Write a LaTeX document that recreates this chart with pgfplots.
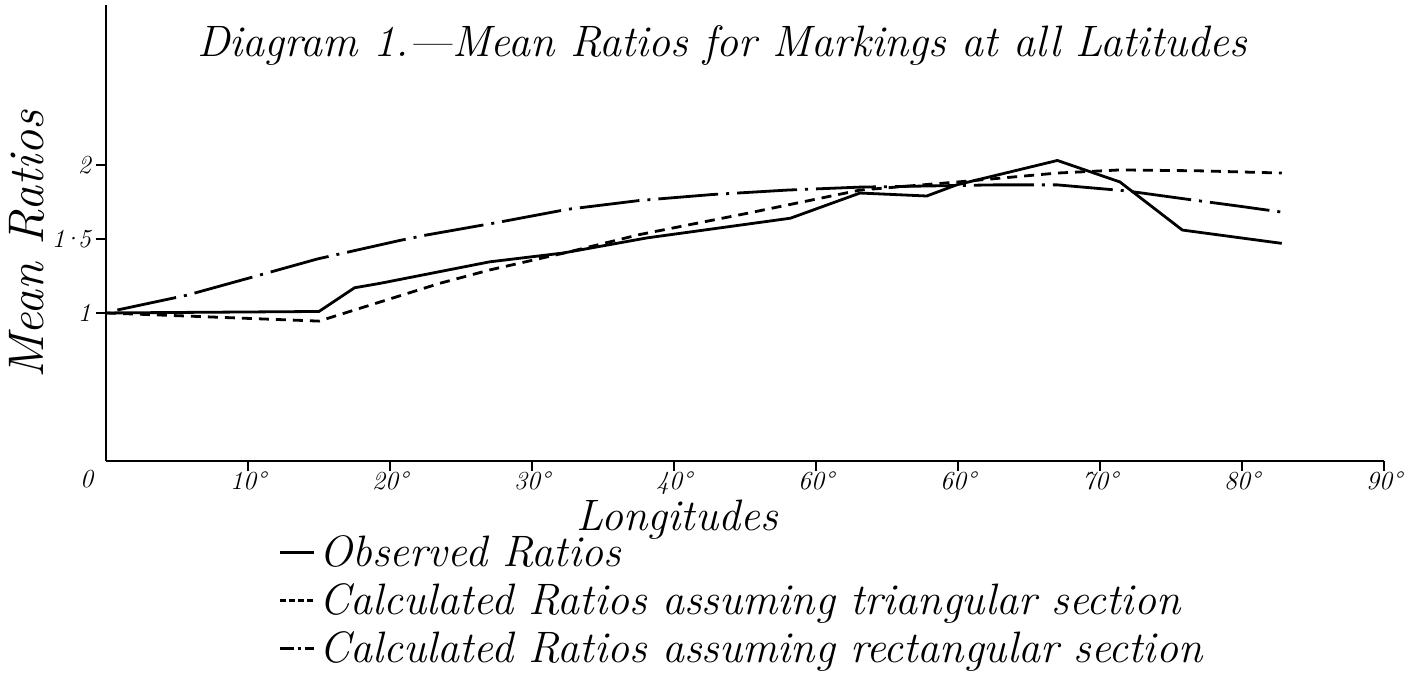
\documentclass[border=0pt]{standalone}
\usepackage{fontspec}
\usepackage{pgfplots}
\pgfplotsset{compat=1.18}
\newcommand{\hand}{\itshape}
\begin{document}
\begin{tikzpicture}
\useasboundingbox (-53pt,-116pt) rectangle (650.5pt,230.5pt);
\begin{axis}[
  anchor=south west, at={(0,0)},
  scale only axis, width=639pt, height=228pt,
  xmin=0, xmax=90, ymin=0, ymax=3.08,
  axis x line=bottom, axis y line=left,
  axis line style={-, line width=1.4pt},
  xtick={10,20,...,90},
  xticklabels={10\textdegree,20\textdegree,30\textdegree,40\textdegree,60\textdegree,60\textdegree,70\textdegree,80\textdegree,90\textdegree},
  ytick={1,1.5,2}, yticklabels={1,\mbox{1\kern-1.6pt·\kern-1.6pt5},2},
  tick align=outside, major tick length=5pt,
  tick style={line width=1.2pt, black},
  ticklabel style={font=\fontsize{13}{15}\selectfont\hand},
  xticklabel style={yshift=3pt},
  yticklabel style={xshift=1pt},
  clip=false,
  title={Diagram 1.---Mean Ratios for Markings at all Latitudes},
  title style={at={(axis description cs:0.482,0.885)}, anchor=center, font=\fontsize{22}{26}\selectfont\hand},
  xlabel={Longitudes},
  xlabel style={at={(axis description cs:0.447,-0.128)}, anchor=center, font=\fontsize{22}{26}\selectfont\hand},
  ylabel={Mean Ratios},
  ylabel style={at={(axis description cs:-0.062,0.474)}, anchor=center, font=\fontsize{25}{29}\selectfont\hand},
  legend style={draw=none, fill=none, at={(axis description cs:0.13,-0.145)}, anchor=north west,
    font=\fontsize{22}{26}\selectfont\hand, row sep=3pt},
  legend cell align=left,
  every axis plot/.append style={line width=1.4pt, black},
]
\addplot[solid] coordinates {(0,1.0) (15,1.01) (17.5,1.17) (19.3,1.20) (27,1.345) (32.2,1.405) (38.1,1.507) (48.2,1.64) (53.1,1.81) (57.8,1.79) (59.9,1.865) (67.0,2.03) (71.4,1.885) (75.8,1.56) (82.8,1.47)};
\addlegendentry{Observed Ratios}
\addplot[dash pattern=on 5pt off 3.5pt, legend image post style={dash pattern=on 3pt off 1.5pt}] coordinates {(0,1.0) (15,0.945) (19.3,1.074) (23.5,1.20) (27,1.29) (32.5,1.41) (37.6,1.53) (45,1.67) (53.1,1.83) (60,1.885) (67,1.945) (71.4,1.966) (77,1.96) (82.8,1.945)};
\addlegendentry{Calculated Ratios assuming triangular section}
\addplot[dash pattern=on 30pt off 4pt on 1.5pt off 4pt, legend image post style={dash pattern=on 7pt off 2pt on 1.5pt off 2pt}] coordinates {(0.8,1.02) (5.7,1.12) (10,1.234) (14.9,1.365) (20.7,1.49) (22.6,1.527) (27.5,1.61) (32.5,1.70) (37.6,1.76) (42.7,1.80) (48,1.83) (53.1,1.85) (62.5,1.865) (67,1.865) (71.9,1.824) (76,1.77) (79.9,1.72) (82.9,1.68)};
\addlegendentry{Calculated Ratios assuming rectangular section}
\node[anchor=north east, font=\fontsize{13}{15}\selectfont\hand, inner sep=2pt] at (axis cs:-0.6,-0.03) {0};
\end{axis}
\end{tikzpicture}
\end{document}
